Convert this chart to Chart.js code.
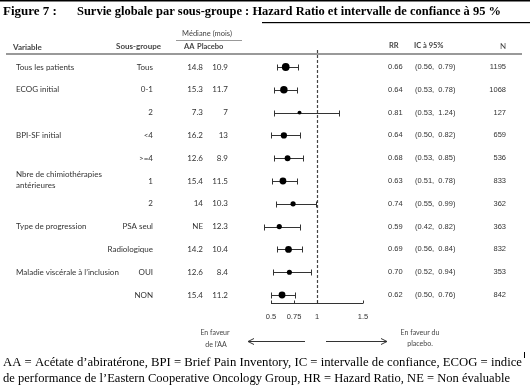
<!DOCTYPE html>
<html>
<head>
<meta charset="utf-8">
<script src="https://cdn.jsdelivr.net/npm/chart.js@4.4.0/dist/chart.umd.min.js"></script>
<style>
  html, body { margin: 0; padding: 0; background: #fff; }
  #wrap { width: 530px; height: 392px; }
</style>
</head>
<body>
<div id="wrap"><canvas id="forestChart" width="530" height="392"></canvas></div>
<script>
// Données
const variables = ['Tous les patients', 'ECOG initial', '', 'BPI-SF initial', '', 'Nbre de chimiothérapies|antérieures', '', 'Type de progression', '', 'Maladie viscérale à l\u2019inclusion', ''];
const subgroups = ['Tous', '0-1', '2', '<4', '>=4', '1', '2', 'PSA seul', 'Radiologique', 'OUI', 'NON'];
const medianAA = ['14.8', '15.3', '7.3', '16.2', '12.6', '15.4', '14', 'NE', '14.2', '12.6', '15.4'];
const medianPlacebo = ['10.9', '11.7', '7', '13', '8.9', '11.5', '10.3', '12.3', '10.4', '8.4', '11.2'];
const hazardRatio = [0.66, 0.64, 0.81, 0.64, 0.68, 0.63, 0.74, 0.59, 0.69, 0.70, 0.62];
const ciLow = [0.56, 0.53, 0.53, 0.50, 0.53, 0.51, 0.55, 0.42, 0.56, 0.52, 0.50];
const ciHigh = [0.79, 0.78, 1.24, 0.82, 0.85, 0.78, 0.99, 0.82, 0.84, 0.94, 0.76];
const patients = [1195, 1068, 127, 659, 536, 833, 362, 363, 832, 353, 842];
const xTicks = [0.5, 0.75, 1, 1.5];

const TXT = '#333';
const SANS = '"Lato", "Liberation Sans", sans-serif';
const ARIAL = '"Liberation Sans", Arial, sans-serif';
const SERIF = '"Liberation Serif", "Times New Roman", serif';

function text(ctx, str, x, y, align, font, color, maxW) {
  ctx.font = font;
  ctx.fillStyle = color || TXT;
  ctx.textAlign = align;
  ctx.textBaseline = 'middle';
  if (maxW) ctx.fillText(str, x, y, maxW); else ctx.fillText(str, x, y);
}

const forestPlugin = {
  id: 'forest',
  beforeDatasetsDraw(chart) {
    const { ctx, scales: { x, y } } = chart;
    ctx.save();

    // ligne de référence HR = 1
    const x1 = Math.round(x.getPixelForValue(1)) + 0.5;
    ctx.strokeStyle = '#444';
    ctx.lineWidth = 1.2;
    ctx.setLineDash([3, 2]);
    ctx.beginPath();
    ctx.moveTo(x1, 50);
    ctx.lineTo(x1, y.bottom);
    ctx.stroke();
    ctx.setLineDash([]);

    // intervalles de confiance
    ctx.strokeStyle = '#333';
    ctx.lineWidth = 1;
    hazardRatio.forEach(function (_, i) {
      const py = Math.round(y.getPixelForValue(i)) + 0.5;
      const a = Math.round(x.getPixelForValue(ciLow[i])) + 0.5;
      const b = Math.round(x.getPixelForValue(ciHigh[i])) + 0.5;
      ctx.beginPath();
      ctx.moveTo(a, py); ctx.lineTo(b, py);
      ctx.moveTo(a, py - 3); ctx.lineTo(a, py + 3);
      ctx.moveTo(b, py - 3); ctx.lineTo(b, py + 3);
      ctx.stroke();
    });

    // axe des x
    const yb = Math.round(y.bottom) + 0.5;
    ctx.beginPath();
    ctx.moveTo(x.getPixelForValue(xTicks[0]), yb);
    ctx.lineTo(x.getPixelForValue(xTicks[xTicks.length - 1]), yb);
    xTicks.forEach(function (t) {
      const px = Math.round(x.getPixelForValue(t)) + 0.5;
      ctx.moveTo(px, yb); ctx.lineTo(px, yb - 3);
    });
    ctx.stroke();
    xTicks.forEach(function (t) {
      text(ctx, String(t), x.getPixelForValue(t), yb + 13, 'center', '7.5px ' + ARIAL, '#333');
    });
    ctx.restore();
  },
  afterDraw(chart) {
    const { ctx, scales: { x, y } } = chart;
    ctx.save();

    // cadre / titre
    ctx.fillStyle = '#000';
    ctx.fillRect(0, 0, 530, 1.5);
    ctx.fillRect(262, 22, 268, 1.2);
    text(ctx, 'Figure 7 :', 3, 12, 'left', 'bold 13px ' + SERIF, '#000');
    text(ctx, 'Survie globale par sous-groupe : Hazard Ratio et intervalle de confiance à 95 %', 77, 12, 'left', 'bold 13px ' + SERIF, '#000', 424);

    // en-têtes
    text(ctx, 'Variable', 13, 47, 'left', 'bold 8px ' + SANS, '#444');
    text(ctx, 'Sous-groupe', 116, 46, 'left', 'bold 8px ' + SANS, '#444');
    text(ctx, 'Médiane (mois)', 207, 34, 'center', '7.5px ' + SANS, '#444');
    text(ctx, 'AA', 184, 47, 'left', 'bold 7.5px ' + SANS, '#444');
    text(ctx, 'Placebo', 197, 47, 'left', 'bold 7.5px ' + SANS, '#444');
    text(ctx, 'RR', 389, 46, 'left', 'bold 7.5px ' + SANS, '#444');
    text(ctx, 'IC à 95%', 414, 46, 'left', 'bold 7.5px ' + SANS, '#444');
    text(ctx, 'N', 506, 46, 'right', '8px ' + SANS, '#444');
    ctx.fillStyle = '#999';
    ctx.fillRect(176, 40, 66, 1);
    ctx.fillRect(6, 53, 516, 2);

    // lignes du tableau
    hazardRatio.forEach(function (hr, i) {
      const py = y.getPixelForValue(i);
      const v = variables[i].split('|');
      if (v.length > 1) {
        text(ctx, v[0], 16, py - 7, 'left', '8px ' + SANS);
        text(ctx, v[1], 16, py + 4, 'left', '8px ' + SANS);
      } else if (v[0]) {
        text(ctx, v[0], 16, py, 'left', '8px ' + SANS);
      }
      text(ctx, subgroups[i], 153, py, 'right', '8px ' + SANS);
      text(ctx, medianAA[i], 203, py, 'right', '8px ' + SANS);
      text(ctx, medianPlacebo[i], 228, py, 'right', '8px ' + SANS);
      text(ctx, hr.toFixed(2), 388, py, 'left', '7.5px ' + ARIAL);
      text(ctx, '(' + ciLow[i].toFixed(2) + ',  ' + ciHigh[i].toFixed(2) + ')', 415, py, 'left', '7.5px ' + ARIAL);
      text(ctx, String(patients[i]), 506, py, 'right', '7.5px ' + ARIAL);
    });

    // flèches
    ctx.strokeStyle = '#333';
    ctx.lineWidth = 1;
    ctx.beginPath();
    ctx.moveTo(305, 341.5); ctx.lineTo(248, 341.5);
    ctx.moveTo(254, 338.5); ctx.lineTo(248, 341.5); ctx.lineTo(254, 344.5);
    ctx.moveTo(326, 341.5); ctx.lineTo(387, 341.5);
    ctx.moveTo(381, 338.5); ctx.lineTo(387, 341.5); ctx.lineTo(381, 344.5);
    ctx.stroke();
    text(ctx, 'En faveur', 215, 333, 'center', '7px ' + SANS, '#444');
    text(ctx, 'de l\u2019AA', 216, 345, 'center', '7px ' + SANS, '#444');
    text(ctx, 'En faveur du', 420, 333, 'center', '7px ' + SANS, '#444');
    text(ctx, 'placebo.', 420, 344, 'center', '7px ' + SANS, '#444');

    // note
    ctx.fillStyle = '#000';
    ctx.fillRect(524, 352, 1, 6);
    text(ctx, 'AA = Acétate d\u2019abiratérone, BPI = Brief Pain Inventory, IC = intervalle de confiance, ECOG = indice', 3, 363, 'left', '12.8px ' + SERIF, '#000', 519);
    text(ctx, 'de performance de l\u2019Eastern Cooperative Oncology Group, HR = Hazard Ratio, NE = Non évaluable', 3, 379, 'left', '12.8px ' + SERIF, '#000', 507);
    ctx.restore();
  }
};

new Chart(document.getElementById('forestChart').getContext('2d'), {
  type: 'scatter',
  data: {
    datasets: [{
      data: hazardRatio.map(function (v, i) { return { x: v, y: i }; }),
      pointRadius: patients.map(function (n) { return 1 + Math.sqrt(n) / 12; }),
      pointHoverRadius: 0,
      backgroundColor: '#000',
      borderWidth: 0,
      clip: false
    }]
  },
  options: {
    responsive: false,
    animation: false,
    layout: { padding: { left: 271, right: 167, top: 38.5, bottom: 89 } },
    plugins: { legend: { display: false }, tooltip: { enabled: false } },
    scales: {
      x: { type: 'linear', min: 0.5, max: 1.5, display: false },
      y: { type: 'linear', min: -1.25, max: 10.35, reverse: true, display: false }
    }
  },
  plugins: [forestPlugin]
});
</script>
</body>
</html>
